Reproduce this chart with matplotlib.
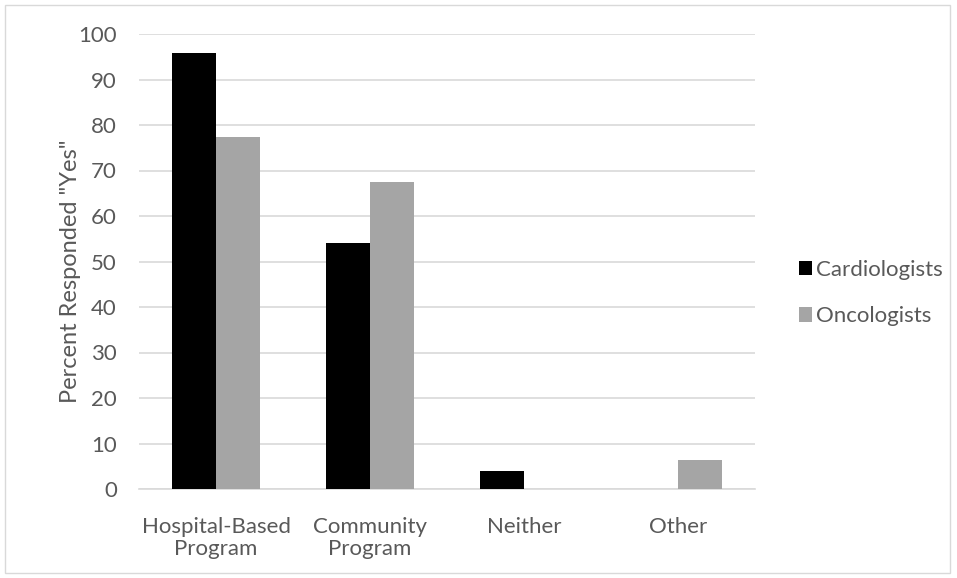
import matplotlib
matplotlib.use("Agg")
import matplotlib.pyplot as plt
import numpy as np
from matplotlib.patches import Rectangle

# === data ===
categories = ["Hospital-Based\nProgram", "Community\nProgram", "Neither", "Other"]
cardiologists = [95.8, 54.0, 4.0, 0.0]
oncologists = [77.3, 67.5, 0.0, 6.4]

plt.rcParams['font.family'] = ['Lato', 'DejaVu Sans']
text_color = "#595959"

fig = plt.figure(figsize=(9.57, 5.78), dpi=100)
ax = fig.add_axes([139 / 957, 1 - 489 / 578, (755 - 139) / 957, (489 - 34) / 578])

x = np.arange(len(categories))
w = 0.284
ax.bar(x - w / 2, cardiologists, w, color="black", label="Cardiologists", zorder=3)
ax.bar(x + w / 2, oncologists, w, color="#a5a5a5", label="Oncologists", zorder=3)

ax.set_xlim(-0.5, len(categories) - 0.5)
ax.set_ylim(0, 100)
ax.set_yticks(np.arange(0, 101, 10))
ax.set_xticks(x)
ax.set_xticklabels(categories, fontsize=16, color=text_color, linespacing=1.15)
ax.tick_params(axis='y', labelsize=16, labelcolor=text_color, length=0, pad=16)
ax.tick_params(axis='x', length=0, pad=20)
ax.grid(axis='y', color="#d9d9d9", linewidth=1.2, zorder=0)
for s in ["top", "right", "left"]:
    ax.spines[s].set_visible(False)
ax.spines["bottom"].set_color("#d9d9d9")
ax.spines["bottom"].set_linewidth(1.2)
ax.set_ylabel('Percent Responded "Yes"', fontsize=17, color=text_color)
ax.yaxis.set_label_coords(-0.094, 0.478)

leg = fig.legend(loc="center left", bbox_to_anchor=(779 / 957, 1 - 293 / 578),
                 frameon=False, fontsize=16, handlelength=0.6, handleheight=0.6,
                 handletextpad=0.15, labelspacing=1.2)
for t in leg.get_texts():
    t.set_color(text_color)

# chart border
fig.patches.append(Rectangle((5 / 957, 5 / 578), 945 / 957, 568 / 578, transform=fig.transFigure,
                             fill=False, edgecolor="#d9d9d9", linewidth=1))

fig.savefig("out.png", dpi=100)
